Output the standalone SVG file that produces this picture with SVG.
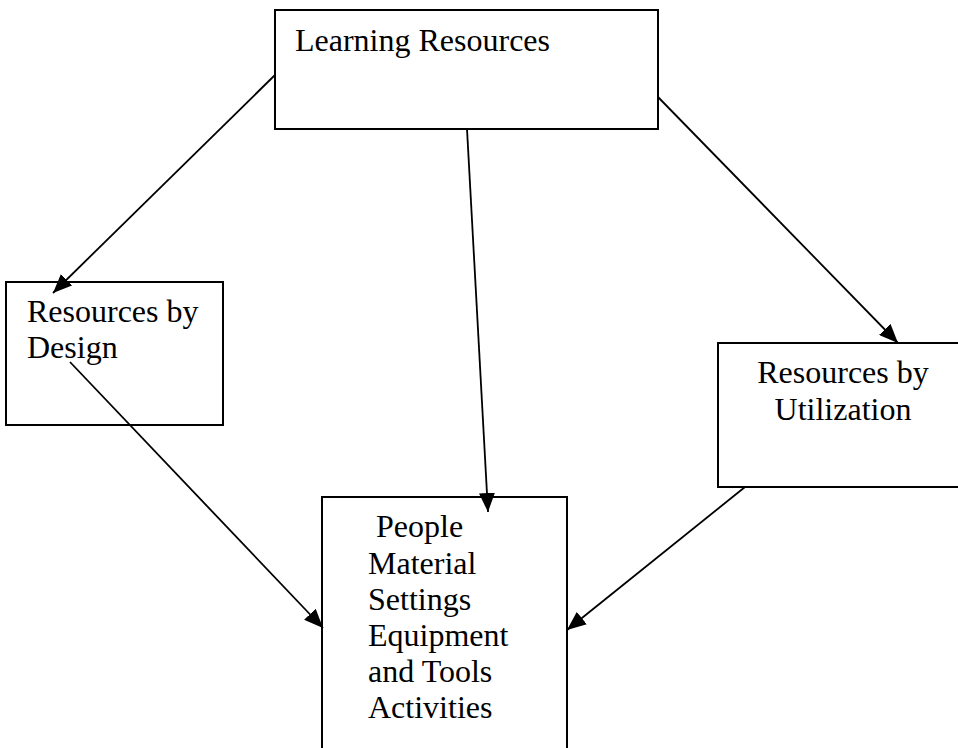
<svg xmlns="http://www.w3.org/2000/svg" width="958" height="748" viewBox="0 0 958 748">
<style>
.box{fill:#fff;stroke:#000;stroke-width:2}
.t{font-family:"Liberation Serif","Times New Roman",serif;font-size:32px;fill:#000}
.c{stroke:#000;stroke-width:1.8;fill:none;marker-end:url(#ah)}
</style>
<defs>
<marker id="ah" markerUnits="userSpaceOnUse" markerWidth="19" markerHeight="16" refX="19" refY="8" orient="auto">
<path d="M0,0 L19,8 L0,16 z" fill="#000"/>
</marker>
</defs>
<rect width="958" height="748" fill="#fff"/>
<g id="learning-resources">
<rect class="box" x="275" y="10" width="383" height="119"/>
<text class="t" x="295" y="51">Learning Resources</text>
</g>
<g id="resources-by-design">
<rect class="box" x="6" y="282" width="217" height="143"/>
<text class="t" x="27" y="322">Resources by</text>
<text class="t" x="27" y="358">Design</text>
</g>
<g id="resources-by-utilization">
<rect class="box" x="718" y="343" width="260" height="144"/>
<text class="t" x="843" y="383" text-anchor="middle">Resources by</text>
<text class="t" x="843" y="420" text-anchor="middle">Utilization</text>
</g>
<g id="people-material">
<rect class="box" x="322" y="497" width="245" height="270"/>
<text class="t" x="368" y="537" xml:space="preserve"> People</text>
<text class="t" x="368" y="574">Material</text>
<text class="t" x="368" y="610">Settings</text>
<text class="t" x="368" y="646">Equipment</text>
<text class="t" x="368" y="682">and Tools</text>
<text class="t" x="368" y="718">Activities</text>
</g>
<g id="connectors">
<line class="c" x1="275" y1="75" x2="53" y2="293"/>
<line class="c" x1="467" y1="129" x2="488" y2="512"/>
<line class="c" x1="658" y1="97" x2="898" y2="343"/>
<line class="c" x1="70" y1="362" x2="323" y2="628"/>
<line class="c" x1="745" y1="487" x2="567" y2="630"/>
</g>
</svg>
